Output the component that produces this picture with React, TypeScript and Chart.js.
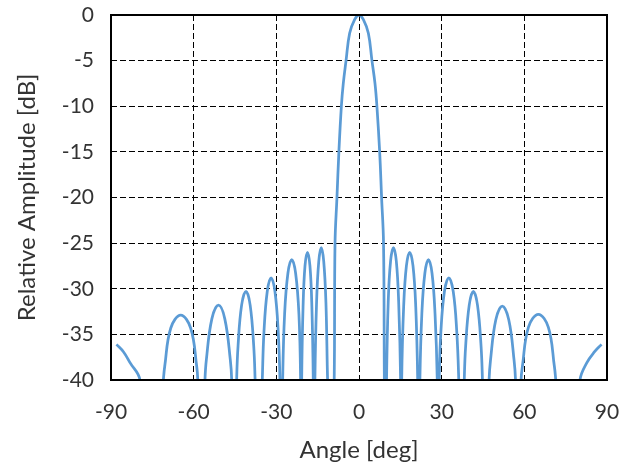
import React, { useEffect, useRef } from 'react';
import { Chart, registerables } from 'chart.js';

Chart.register(...registerables);

// Angle [deg] of each read point (sidelobes left to right; nulls dip below the -40 dB floor)
const angleDeg = [
  -88, -85.5, -83.1, -79.5,
  -75,
  -71.0, -70.5, -68.3, -64.7, -61.1, -58.9, -58.5,
  -57.2,
  -55.9, -55.4, -53.4, -51.0, -48.7, -46.7, -46.2,
  -45.3,
  -44.4, -43.9, -42.6, -41.0, -39.5, -38.2, -37.7,
  -36.4,
  -35.1, -34.5, -33.3, -31.9, -30.5, -29.3, -28.7,
  -28.2,
  -27.7, -27.0, -25.8, -24.4, -23.0, -21.8, -21.2,
  -21.0,
  -20.8, -20.3, -19.6, -18.7, -17.8, -17.1, -16.6,
  -16.3,
  -16.0, -15.4, -14.6, -13.7, -12.8, -12.0, -11.4,
  -10.0,
  -9.0, -8.7, -8.0, -7.3, -6.4, -5.7, -4.7, -3.4, -1.6, 0, 1.6, 3.4, 4.7, 5.8, 6.5, 7.5, 8.2, 8.9, 9.2,
  9.6,
  10.0, 10.6, 11.45, 12.5, 13.55, 14.4, 15.1,
  15.3,
  15.5, 16.2, 17.2, 18.4, 19.6, 20.6, 21.3,
  21.7,
  22.1, 22.8, 23.9, 25.2, 26.5, 27.6, 28.4,
  28.75,
  29.1, 29.7, 31.0, 32.6, 34.2, 35.5, 36.2,
  37.2,
  38.2, 38.7, 40.0, 41.5, 43.0, 44.3, 44.8,
  46.0,
  47.2, 47.7, 49.65, 52.0, 54.35, 56.3, 56.8,
  57.8,
  58.8, 59.3, 61.5, 65.1, 68.7, 70.9, 71.4,
  75.8,
  80.2, 82.7, 85.5, 88,
];

// Relative amplitude [dB] at each angle above
const relAmpDb = [
  -36.1, -36.9, -38.1, -40,
  -55,
  -40, -38.5, -34.3, -32.9, -34.3, -38.5, -40,
  -52,
  -40, -37.8, -33.3, -31.8, -33.3, -37.8, -40,
  -52,
  -40, -36.3, -31.8, -30.3, -31.8, -36.3, -40,
  -52,
  -40, -34.8, -30.3, -28.8, -30.3, -34.8, -40,
  -52,
  -40, -32.8, -28.3, -26.8, -28.3, -32.8, -40,
  -52,
  -40, -32, -27.5, -26, -27.5, -32, -40,
  -52,
  -40, -31.5, -27, -25.5, -27, -31.5, -40,
  -55,
  -40, -25, -20, -15, -10, -7.5, -5, -2, -0.5, 0, -0.5, -2, -5, -7.5, -10, -15, -20, -25, -40,
  -55,
  -40, -31.5, -27, -25.5, -27, -31.5, -40,
  -52,
  -40, -32, -27.5, -26, -27.5, -32, -40,
  -52,
  -40, -32.8, -28.3, -26.8, -28.3, -32.8, -40,
  -52,
  -40, -34.8, -30.3, -28.8, -30.3, -34.8, -40,
  -52,
  -40, -36.3, -31.8, -30.3, -31.8, -36.3, -40,
  -52,
  -40, -37.9, -33.4, -31.9, -33.4, -37.9, -40,
  -52,
  -40, -38.5, -34.2, -32.8, -34.2, -38.5, -40,
  -55,
  -40, -38.1, -36.9, -36.1,
];

const xTickValues = [-90, -60, -30, 0, 30, 60, 90];
const yTickValues = [0, -5, -10, -15, -20, -25, -30, -35, -40];

const xTitle = 'Angle [deg]';
const yTitle = 'Relative Amplitude [dB]';

const FONT = 'Lato, "Open Sans", "DejaVu Sans", sans-serif';
const TEXT_COLOR = '#333333';

const framePlugin = {
  id: 'frame',
  afterDatasetsDraw(chart: any) {
    const { ctx, chartArea } = chart;
    const { left, top, right, bottom } = chartArea;
    ctx.save();
    ctx.strokeStyle = '#000000';
    ctx.lineWidth = 2;
    ctx.strokeRect(left, top, right - left, bottom - top);
    ctx.restore();
  },
};

export default function App() {
  const canvasRef = useRef<HTMLCanvasElement | null>(null);

  useEffect(() => {
    if (!canvasRef.current) return;
    const points = angleDeg.map((a, i) => ({ x: a, y: relAmpDb[i] }));
    const chart = new Chart(canvasRef.current, {
      type: 'line',
      data: {
        datasets: [
          {
            data: points,
            borderColor: '#5B9BD5',
            borderWidth: 2.75,
            pointRadius: 0,
            fill: false,
            tension: 0.4,
          },
        ],
      },
      options: {
        responsive: false,
        animation: false,
        events: [],
        layout: { padding: { top: 15, right: 19, bottom: 0, left: 0 } },
        plugins: {
          legend: { display: false },
          tooltip: { enabled: false },
          title: { display: false },
        },
        scales: {
          x: {
            type: 'linear',
            min: -90,
            max: 90,
            afterBuildTicks: (scale: any) => {
              scale.ticks = xTickValues.map((v) => ({ value: v }));
            },
            afterFit: (scale: any) => {
              scale.height = 88;
              scale.paddingLeft = 0;
              scale.paddingRight = 0;
            },
            grid: {
              color: '#000000',
              lineWidth: 1,
              drawTicks: false,
            },
            border: { display: false, dash: [6, 3] },
            ticks: {
              padding: 20,
              color: TEXT_COLOR,
              font: { family: FONT, size: 21 },
              maxRotation: 0,
              autoSkip: false,
            },
            title: {
              display: true,
              text: xTitle,
              color: TEXT_COLOR,
              font: { family: FONT, size: 24 },
              padding: { top: 0, bottom: 3 },
            },
          },
          y: {
            type: 'linear',
            min: -40,
            max: 0,
            afterBuildTicks: (scale: any) => {
              scale.ticks = yTickValues.map((v) => ({ value: v }));
            },
            afterFit: (scale: any) => {
              scale.width = 111;
              scale.paddingTop = 0;
              scale.paddingBottom = 0;
            },
            grid: {
              color: '#000000',
              lineWidth: 1,
              drawTicks: false,
            },
            border: { display: false, dash: [6, 3] },
            ticks: {
              padding: 17,
              color: TEXT_COLOR,
              font: { family: FONT, size: 21 },
              autoSkip: false,
            },
            title: {
              display: true,
              text: yTitle,
              color: TEXT_COLOR,
              font: { family: FONT, size: 24 },
              padding: { top: 13, bottom: 0 },
            },
          },
        },
      },
      plugins: [framePlugin],
    } as any);
    return () => chart.destroy();
  }, []);

  return (
    <div style={{ position: 'fixed', left: 0, top: 0, width: 626, height: 468, background: '#ffffff' }}>
      <canvas ref={canvasRef} width={626} height={468} style={{ width: 626, height: 468, display: 'block' }} />
    </div>
  );
}
